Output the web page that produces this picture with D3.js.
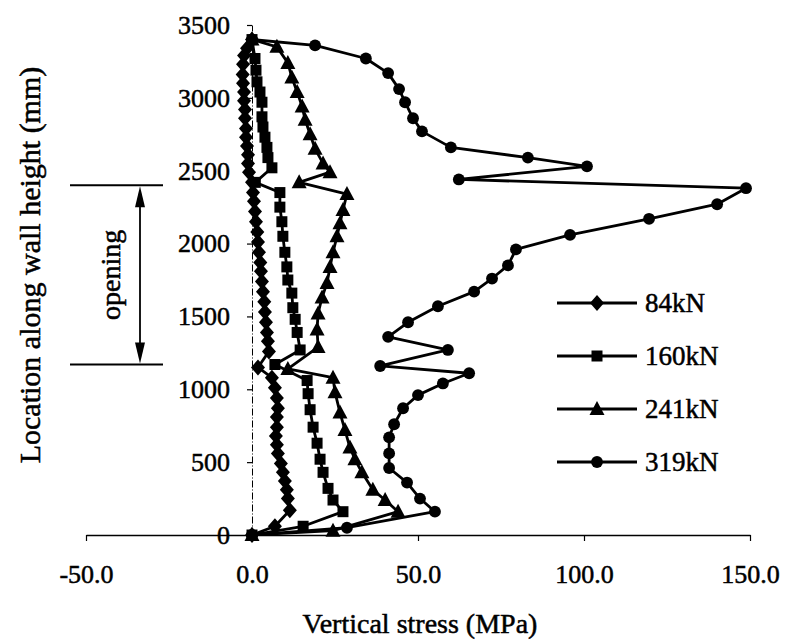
<!DOCTYPE html>
<html>
<head>
<meta charset="utf-8">
<script src="https://cdn.jsdelivr.net/npm/d3@7"></script>
<style>
  body { margin: 0; background: #fff; }
  text { font-family: "Liberation Serif", "Times New Roman", serif; fill: #000; stroke: #000; stroke-width: 0.5px; }
</style>
</head>
<body>
<svg id="chart" width="785" height="644"></svg>
<script>
// series names and [stress (MPa), height (mm)] pairs
const seriesNames = ["84kN", "160kN", "241kN", "319kN"];

const s84 = [[0,3400],[-1.5,3340],[-2.4,3290],[-2.7,3230],[-2.8,3160],[-2.7,3100],[-2.4,3040],[-2.4,2980],[-2.1,2920],[-2.1,2860],
  [-1.8,2790],[-1.8,2730],[-1.5,2670],[-1.2,2610],[-1.2,2550],[-0.9,2490],[0,2420],[0.3,2350],[0.6,2290],[0.9,2220],
  [1.2,2150],[1.6,2080],[1.8,2010],[2.1,1940],[2.5,1870],[2.7,1810],[3.0,1740],[3.3,1670],[3.7,1600],[3.9,1530],
  [4.2,1460],[4.5,1390],[4.8,1330],[5.1,1260],[1.8,1150],[6.0,1080],[6.9,1010],[7.5,940],[7.8,870],[7.5,810],
  [7.5,740],[7.2,680],[7.5,620],[7.8,560],[8.7,490],[9.3,430],[9.9,370],[10.5,310],[10.8,250],[11.4,170],
  [6.9,60],[0,0]];

const s160 = [[0,3400],[0.9,3270],[1.2,3190],[1.5,3110],[2.4,3040],[3.0,2970],[3.0,2870],[3.3,2800],[3.9,2730],[4.5,2660],
  [4.8,2590],[6.0,2520],[1.0,2420],[8.4,2350],[8.4,2250],[9.0,2150],[9.3,2050],[9.9,1940],[10.5,1840],[10.8,1750],
  [12.0,1660],[12.3,1560],[13.0,1480],[13.6,1390],[14.5,1270],[6.9,1170],[16.6,1060],[16.9,970],[17.5,860],[18.4,740],
  [19.6,630],[20.5,520],[21.4,430],[22.9,320],[24.4,240],[27.4,160],[15.4,60],[0,0]];

const s241 = [[0,3400],[7.5,3350],[10.8,3240],[12.0,3140],[13.6,3040],[15.1,2940],[16.0,2850],[17.5,2750],[19.0,2650],[21.4,2550],
  [23.5,2490],[14.2,2420],[28.6,2340],[27.4,2230],[26.5,2140],[25.6,2050],[24.4,1940],[23.5,1840],[22.6,1730],[21.1,1630],
  [19.9,1520],[19.6,1410],[19.9,1290],[10.8,1140],[24.4,1080],[25.0,980],[26.5,840],[28.0,720],[29.5,600],[31.0,520],
  [33.1,430],[36.4,310],[40.1,240],[44.0,160],[24.4,30],[0,0]];

const s319 = [[0,3400],[19.0,3360],[34.3,3270],[41.0,3170],[44.3,3060],[46.1,2970],[48.5,2860],[51.2,2770],[59.9,2660],[83.1,2590],
  [100.9,2530],[62.3,2440],[148.8,2380],[140.1,2270],[119.6,2170],[95.8,2060],[79.5,1960],[77.1,1850],[72.3,1760],[66.9,1670],
  [56.0,1570],[47.0,1460],[41.0,1360],[59.0,1270],[38.6,1160],[65.4,1110],[57.5,1040],[50.0,960],[45.5,870],[42.8,760],
  [41.3,670],[41.3,560],[41.3,460],[46.7,360],[50.6,250],[55.1,160],[28.6,50],[0,0]];

const xTicks = [-50, 0, 50, 100, 150];
const yTicks = [0, 500, 1000, 1500, 2000, 2500, 3000, 3500];
const openingTop = 2400, openingBottom = 1170;

const allSeries = [s84, s160, s241, s319];
const markerKinds = ["diamond", "square", "triangle", "circle"];

const svg = d3.select("#chart");
const x = d3.scaleLinear().domain([-50, 150]).range([86, 750]);
const y = d3.scaleLinear().domain([0, 3500]).range([535, 25]);

// marker shapes
function marker(kind) {
  if (kind === "diamond") return "M0,-8L7,0L0,8L-7,0Z";
  if (kind === "square") return "M-5.5,-5.5H5.5V5.5H-5.5Z";
  if (kind === "triangle") return "M0,-8L7.5,6L-7.5,6Z";
  return d3.symbol(d3.symbolCircle, 110)();
}

// x axis along y = 0
const xAxis = svg.append("g")
  .attr("transform", `translate(0,${y(0)})`)
  .call(d3.axisBottom(x).tickValues(xTicks).tickSize(6).tickPadding(24)
    .tickFormat(d => d.toFixed(1)).tickSizeOuter(0));
xAxis.select(".domain").attr("stroke-width", 1.5);
xAxis.selectAll(".tick line").attr("stroke-width", 1.2);
xAxis.selectAll(".tick text").style("font-size", "26px").style("font-family", "Liberation Serif");

// y axis at x = 0, drawn dash-dot
const yAxis = svg.append("g")
  .attr("transform", `translate(${x(0)},0)`)
  .call(d3.axisLeft(y).tickValues(yTicks).tickSize(5).tickPadding(17)
    .tickFormat(d3.format("d")).tickSizeOuter(0));
yAxis.select(".domain").attr("stroke-width", 1).attr("stroke-dasharray", "7,2,1,2");
yAxis.selectAll(".tick line").attr("stroke-width", 1.2);
yAxis.selectAll(".tick text").style("font-size", "26px").style("font-family", "Liberation Serif");

// series lines and markers
const line = d3.line().x(d => x(d[0])).y(d => y(d[1]));
allSeries.forEach((data, i) => {
  svg.append("path")
    .datum(data)
    .attr("d", line)
    .attr("fill", "none")
    .attr("stroke", "#000")
    .attr("stroke-width", 2.8)
    .attr("stroke-linejoin", "round");
  svg.append("g").selectAll("path")
    .data(data)
    .join("path")
    .attr("d", marker(markerKinds[i]))
    .attr("transform", d => `translate(${x(d[0])},${y(d[1])})`)
    .attr("fill", "#000");
});

// legend
const legend = svg.append("g").attr("transform", "translate(557,303)");
seriesNames.forEach((name, i) => {
  const g = legend.append("g").attr("transform", `translate(0,${i * 53})`);
  g.append("line").attr("x1", 0).attr("x2", 80).attr("stroke", "#000").attr("stroke-width", 2.8);
  g.append("path").attr("d", marker(markerKinds[i])).attr("transform", "translate(40,0)");
  g.append("text").attr("x", 88).attr("dy", "0.35em").style("font-size", "27px").text(name);
});

// opening annotation
const ann = svg.append("g");
[openingTop, openingBottom].forEach(v => {
  ann.append("line").attr("x1", 70).attr("x2", 163)
    .attr("y1", y(v)).attr("y2", y(v)).attr("stroke", "#000").attr("stroke-width", 2);
});
ann.append("line").attr("x1", 140).attr("x2", 140)
  .attr("y1", y(openingTop) + 18).attr("y2", y(openingBottom) - 18)
  .attr("stroke", "#000").attr("stroke-width", 1.8);
ann.append("path")
  .attr("d", `M140,${y(openingTop) + 1}L135,${y(openingTop) + 22}L145,${y(openingTop) + 22}Z`);
ann.append("path")
  .attr("d", `M140,${y(openingBottom) - 1}L135,${y(openingBottom) - 22}L145,${y(openingBottom) - 22}Z`);
ann.append("text")
  .attr("transform", `translate(120,${(y(openingTop) + y(openingBottom)) / 2}) rotate(-90)`)
  .attr("text-anchor", "middle")
  .style("font-size", "28px")
  .text("opening");

// axis titles
svg.append("text")
  .attr("x", 420).attr("y", 633)
  .attr("text-anchor", "middle")
  .style("font-size", "28px")
  .text("Vertical stress (MPa)");
svg.append("text")
  .attr("transform", "translate(40,265) rotate(-90)")
  .attr("text-anchor", "middle")
  .style("font-size", "30px")
  .text("Location along wall height (mm)");
</script>
</body>
</html>
